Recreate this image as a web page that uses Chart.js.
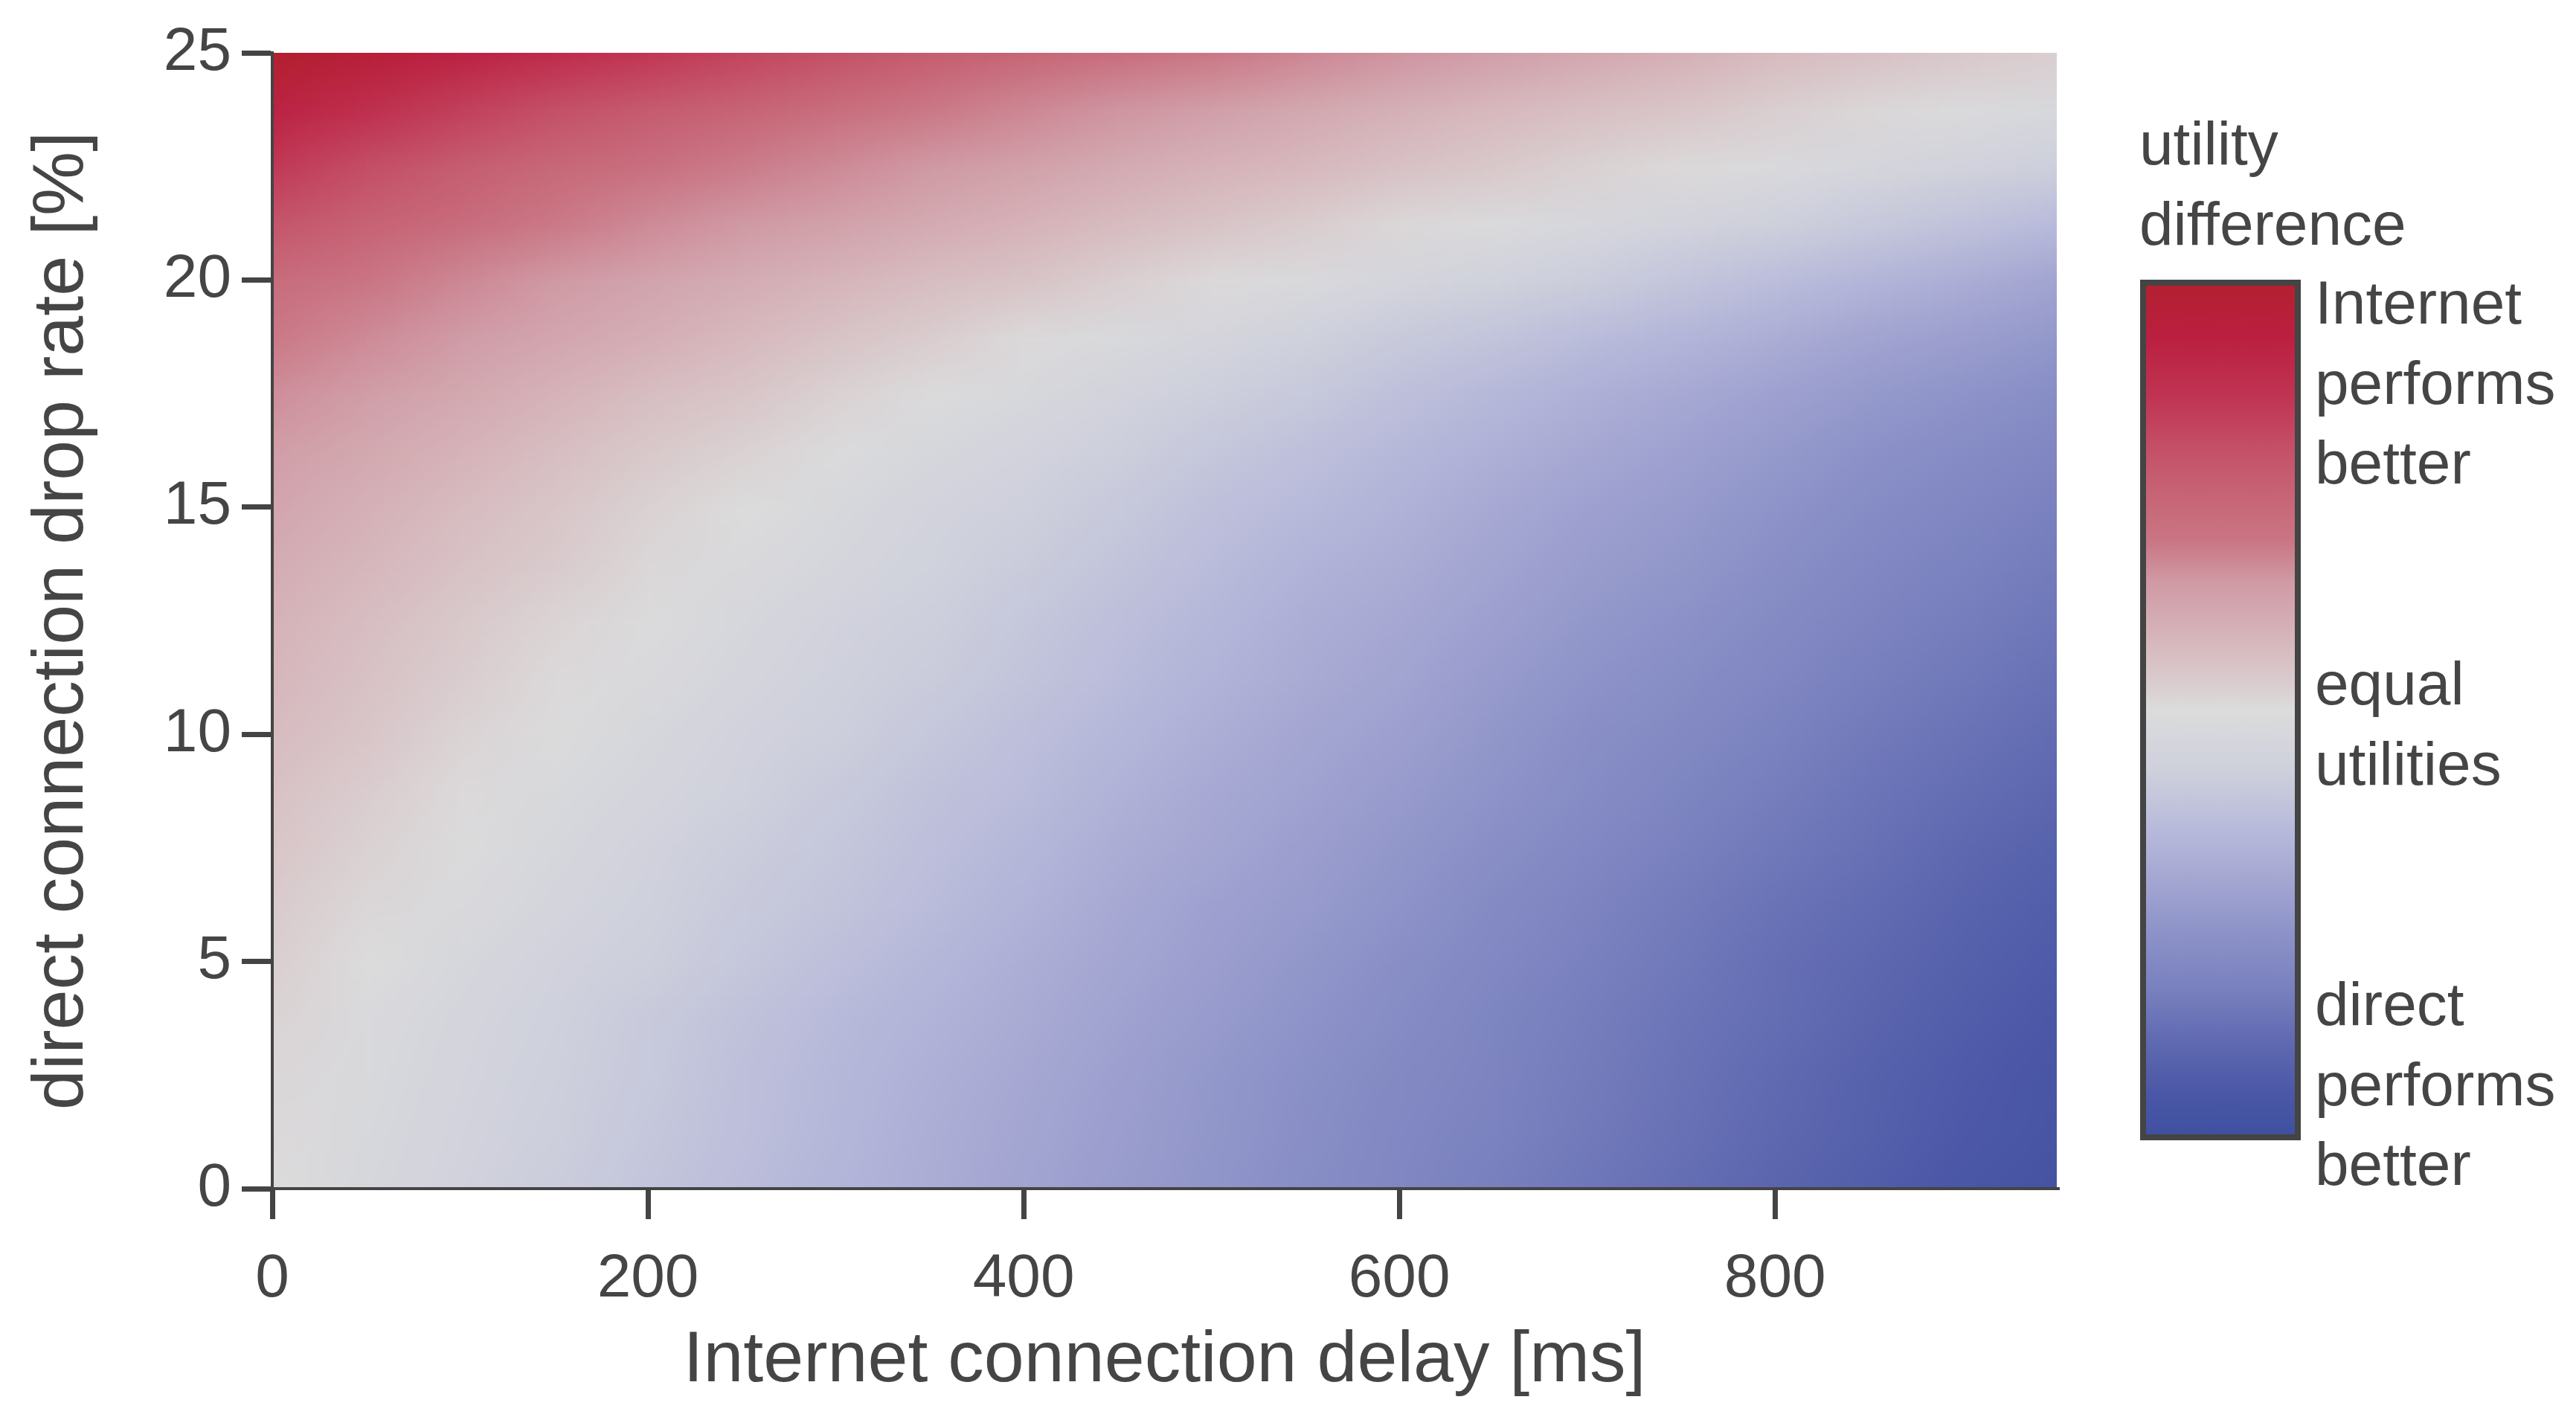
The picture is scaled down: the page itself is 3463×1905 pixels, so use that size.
<!DOCTYPE html>
<html>
<head>
<meta charset="utf-8">
<script src="https://cdn.jsdelivr.net/npm/chart.js@4.4.1/dist/chart.umd.min.js"></script>
<style>
  html, body { margin: 0; padding: 0; background: #ffffff; }
  canvas { display: block; }
</style>
</head>
<body>
<canvas id="c" width="3463" height="1905" style="width:3463px;height:1905px"></canvas>
<script>
// ---- data ----
const delays = [0, 50, 100, 150, 200, 250, 300, 350, 400, 450, 500, 550, 600, 650, 700, 750, 800, 850, 900, 950];
const dropRates = [0, 1.25, 2.5, 3.75, 5, 6.25, 7.5, 8.75, 10, 11.25, 12.5, 13.75, 15, 16.25, 17.5, 18.75, 20, 21.25, 22.5, 23.75, 25];
const xTickValues = [0, 200, 400, 600, 800];
const yTickValues = [0, 5, 10, 15, 20, 25];
// utility difference (normalised, -1 = direct performs better, +1 = Internet performs better)
// one row per drop rate (ascending), one column per delay (ascending)
const utilityDiff = [
  [0.00,-0.06,-0.11,-0.16,-0.21,-0.26,-0.31,-0.36,-0.41,-0.46,-0.51,-0.56,-0.61,-0.66,-0.71,-0.76,-0.81,-0.86,-0.91,-0.95],
  [0.01,-0.05,-0.10,-0.15,-0.20,-0.25,-0.30,-0.35,-0.40,-0.45,-0.50,-0.55,-0.60,-0.64,-0.69,-0.74,-0.79,-0.84,-0.89,-0.93],
  [0.02,-0.04,-0.09,-0.14,-0.19,-0.24,-0.29,-0.34,-0.39,-0.44,-0.49,-0.54,-0.59,-0.63,-0.68,-0.73,-0.78,-0.83,-0.88,-0.92],
  [0.03,-0.03,-0.08,-0.13,-0.18,-0.23,-0.28,-0.32,-0.37,-0.42,-0.47,-0.52,-0.57,-0.62,-0.67,-0.72,-0.76,-0.81,-0.86,-0.90],
  [0.05, 0.00,-0.06,-0.11,-0.15,-0.20,-0.25,-0.30,-0.35,-0.40,-0.45,-0.50,-0.55,-0.60,-0.65,-0.70,-0.75,-0.79,-0.84,-0.88],
  [0.07, 0.02,-0.03,-0.08,-0.13,-0.18,-0.22,-0.27,-0.32,-0.38,-0.43,-0.47,-0.52,-0.58,-0.63,-0.68,-0.73,-0.77,-0.82,-0.86],
  [0.09, 0.04,-0.01,-0.06,-0.11,-0.16,-0.20,-0.25,-0.30,-0.36,-0.40,-0.45,-0.50,-0.55,-0.60,-0.65,-0.70,-0.74,-0.79,-0.83],
  [0.11, 0.06, 0.01,-0.04,-0.08,-0.13,-0.18,-0.23,-0.27,-0.33,-0.38,-0.42,-0.47,-0.52,-0.57,-0.62,-0.67,-0.72,-0.76,-0.80],
  [0.14, 0.09, 0.03,-0.01,-0.06,-0.11,-0.15,-0.20,-0.25,-0.30,-0.35,-0.40,-0.44,-0.50,-0.55,-0.59,-0.64,-0.69,-0.73,-0.77],
  [0.16, 0.11, 0.06, 0.01,-0.03,-0.08,-0.13,-0.17,-0.22,-0.27,-0.32,-0.37,-0.41,-0.47,-0.52,-0.56,-0.61,-0.66,-0.70,-0.74],
  [0.18, 0.13, 0.08, 0.03,-0.01,-0.06,-0.11,-0.15,-0.20,-0.25,-0.30,-0.35,-0.39,-0.44,-0.49,-0.53,-0.58,-0.63,-0.67,-0.71],
  [0.21, 0.16, 0.11, 0.07, 0.02,-0.03,-0.07,-0.12,-0.17,-0.22,-0.27,-0.32,-0.36,-0.41,-0.46,-0.50,-0.55,-0.60,-0.64,-0.68],
  [0.24, 0.19, 0.14, 0.09, 0.04, 0.00,-0.05,-0.10,-0.14,-0.19,-0.24,-0.28,-0.33,-0.38,-0.43,-0.47,-0.52,-0.57,-0.61,-0.65],
  [0.28, 0.23, 0.18, 0.13, 0.08, 0.04,-0.01,-0.06,-0.10,-0.15,-0.20,-0.24,-0.29,-0.34,-0.39,-0.43,-0.48,-0.53,-0.57,-0.61],
  [0.33, 0.28, 0.23, 0.18, 0.13, 0.09, 0.04,-0.01,-0.05,-0.10,-0.15,-0.19,-0.24,-0.29,-0.34,-0.38,-0.43,-0.48,-0.52,-0.56],
  [0.39, 0.34, 0.29, 0.24, 0.20, 0.15, 0.10, 0.06, 0.01,-0.04,-0.08,-0.13,-0.18,-0.22,-0.27,-0.31,-0.36,-0.41,-0.45,-0.49],
  [0.45, 0.40, 0.35, 0.30, 0.25, 0.21, 0.17, 0.13, 0.10, 0.05, 0.01,-0.03,-0.08,-0.12,-0.16,-0.21,-0.26,-0.31,-0.36,-0.41],
  [0.58, 0.51, 0.45, 0.39, 0.34, 0.30, 0.26, 0.22, 0.18, 0.14, 0.10, 0.06, 0.02,-0.02,-0.06,-0.10,-0.14,-0.19,-0.23,-0.28],
  [0.71, 0.62, 0.54, 0.48, 0.43, 0.38, 0.34, 0.30, 0.26, 0.22, 0.18, 0.15, 0.11, 0.08, 0.04, 0.01,-0.03,-0.07,-0.11,-0.15],
  [0.85, 0.76, 0.68, 0.61, 0.55, 0.50, 0.44, 0.39, 0.35, 0.31, 0.27, 0.23, 0.19, 0.15, 0.12, 0.09, 0.05, 0.02,-0.02,-0.05],
  [1.00, 0.93, 0.85, 0.78, 0.72, 0.66, 0.60, 0.54, 0.49, 0.44, 0.39, 0.35, 0.31, 0.27, 0.23, 0.19, 0.14, 0.11, 0.08, 0.05]
];
const colorbarTitle = ['utility', 'difference'];
const colorbarTopLabel = ['Internet', 'performs', 'better'];
const colorbarMidLabel = ['equal', 'utilities'];
const colorbarBottomLabel = ['direct', 'performs', 'better'];

// ---- style ----
const TEXT = '#454545';
const FONT = '"Liberation Sans", Arial, Helvetica, sans-serif';
const colorStops = [
  [-1.00, '#4050a0'], [-0.91, '#4a56a6'], [-0.79, '#5e68b0'], [-0.66, '#7880be'],
  [-0.53, '#8c92c8'], [-0.40, '#a4a6d2'], [-0.28, '#b8badb'], [-0.15, '#cdcfdc'],
  [ 0.00, '#dcdcdc'], [ 0.05, '#dacfd1'], [ 0.17, '#d6b5ba'], [ 0.30, '#d09aa5'],
  [ 0.40, '#ca7584'], [ 0.49, '#c76777'], [ 0.62, '#c44f67'], [ 0.74, '#c03352'],
  [ 0.88, '#bb1f40'], [ 1.00, '#b32030']
];
function hexRgb(h) { return [parseInt(h.slice(1,3),16), parseInt(h.slice(3,5),16), parseInt(h.slice(5,7),16)]; }
const stopRgb = colorStops.map(s => [s[0], hexRgb(s[1])]);
function cmap(v) {
  v = Math.max(-1, Math.min(1, v));
  for (let k = 0; k < stopRgb.length - 1; k++) {
    const a = stopRgb[k], b = stopRgb[k+1];
    if (v <= b[0]) {
      const t = (v - a[0]) / (b[0] - a[0]);
      return [0,1,2].map(c => Math.round(a[1][c] + (b[1][c] - a[1][c]) * t));
    }
  }
  return stopRgb[stopRgb.length-1][1];
}

const nodes = [];
dropRates.forEach((p, i) => delays.forEach((d, j) => nodes.push({x: d, y: p, v: utilityDiff[i][j]})));

const heatmapPlugin = {
  id: 'heatmap',
  beforeDraw(chart) {
    const {ctx, chartArea, scales} = chart;
    const xs = scales.x, ys = scales.y;
    const nx = delays.length, ny = dropRates.length;
    const off = document.createElement('canvas');
    off.width = nx; off.height = ny;
    const octx = off.getContext('2d');
    const img = octx.createImageData(nx, ny);
    for (let i = 0; i < ny; i++) {
      for (let j = 0; j < nx; j++) {
        const c = cmap(utilityDiff[i][j]);
        const k = ((ny - 1 - i) * nx + j) * 4;
        img.data[k] = c[0]; img.data[k+1] = c[1]; img.data[k+2] = c[2]; img.data[k+3] = 255;
      }
    }
    octx.putImageData(img, 0, 0);
    const hx = (delays[1] - delays[0]) / 2, hy = (dropRates[1] - dropRates[0]) / 2;
    const x0 = xs.getPixelForValue(delays[0] - hx), x1 = xs.getPixelForValue(delays[nx-1] + hx);
    const y0 = ys.getPixelForValue(dropRates[ny-1] + hy), y1 = ys.getPixelForValue(dropRates[0] - hy);
    ctx.save();
    ctx.beginPath();
    ctx.rect(chartArea.left, chartArea.top, chartArea.right - chartArea.left, chartArea.bottom - chartArea.top);
    ctx.clip();
    ctx.imageSmoothingEnabled = true;
    ctx.imageSmoothingQuality = 'low';
    ctx.drawImage(off, x0, y0, x1 - x0, y1 - y0);
    ctx.restore();
  },
  afterDraw(chart) {
    const ctx = chart.ctx;
    ctx.save();
    // colour bar
    const L = 2885, R = 3085, T = 384, B = 1525;
    const g = ctx.createLinearGradient(0, B, 0, T);
    colorStops.forEach(s => g.addColorStop((s[0] + 1) / 2, s[1]));
    ctx.fillStyle = g;
    ctx.fillRect(L, T, R - L, B - T);
    ctx.strokeStyle = '#444444';
    ctx.lineWidth = 8;
    ctx.strokeRect(L - 4, T - 4, R - L + 8, B - T + 8);
    // texts
    ctx.fillStyle = TEXT;
    ctx.font = '82px ' + FONT;
    ctx.textAlign = 'left';
    ctx.textBaseline = 'alphabetic';
    const lh = 107.5;
    colorbarTitle.forEach((t, i) => ctx.fillText(t, 2876, 221 + i * lh));
    colorbarTopLabel.forEach((t, i) => ctx.fillText(t, 3112, 435 + i * lh));
    colorbarMidLabel.forEach((t, i) => ctx.fillText(t, 3112, 947 + i * lh));
    colorbarBottomLabel.forEach((t, i) => ctx.fillText(t, 3112, 1378 + i * lh));
    ctx.restore();
  }
};

Chart.defaults.font.family = FONT;
Chart.defaults.color = TEXT;

new Chart(document.getElementById('c'), {
  type: 'scatter',
  data: { datasets: [{ label: 'utility difference', data: nodes, pointRadius: 0, pointHoverRadius: 0 }] },
  options: {
    responsive: false,
    devicePixelRatio: 1,
    animation: false,
    events: [],
    layout: { padding: { left: 0, top: 71, right: 698, bottom: 0 } },
    plugins: { legend: { display: false }, tooltip: { enabled: false } },
    scales: {
      x: {
        type: 'linear', min: 0, max: 950,
        afterBuildTicks: s => { s.ticks = xTickValues.map(v => ({ value: v })); },
        afterFit: s => { s.height = 307; },
        border: { display: true, color: '#444444', width: 4 },
        grid: { display: true, drawOnChartArea: false, drawTicks: true, tickLength: 41, tickWidth: 7, lineWidth: 7, tickColor: '#444444', color: '#444444' },
        ticks: { font: { size: 82 }, color: TEXT, padding: 32, autoSkip: false, maxRotation: 0 },
        title: { display: true, text: 'Internet connection delay [ms]', font: { size: 97 }, color: TEXT, padding: { top: 0, bottom: 17 } }
      },
      y: {
        type: 'linear', min: 0, max: 25,
        afterBuildTicks: s => { s.ticks = yTickValues.map(v => ({ value: v })); },
        afterFit: s => { s.width = 366; },
        border: { display: true, color: '#444444', width: 4 },
        grid: { display: true, drawOnChartArea: false, drawTicks: true, tickLength: 41, tickWidth: 7, lineWidth: 7, tickColor: '#444444', color: '#444444' },
        ticks: { font: { size: 82 }, color: TEXT, padding: 14, autoSkip: false },
        title: { display: true, text: 'direct connection drop rate [%]', font: { size: 97 }, color: TEXT, padding: { top: 26, bottom: 0 } }
      }
    }
  },
  plugins: [heatmapPlugin]
});
</script>
</body>
</html>
